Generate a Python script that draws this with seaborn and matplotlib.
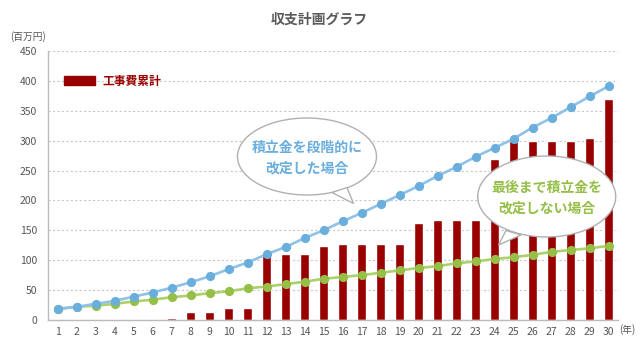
import numpy as np
import pandas as pd
import matplotlib
matplotlib.use("Agg")
import matplotlib.pyplot as plt
from matplotlib.patches import Ellipse, Polygon, Patch
import seaborn as sns

years = [str(i) for i in range(1, 31)]
construction_cum = [0, 0, 0, 1.5, 1.5, 1.5, 4, 13, 13, 20, 20, 110, 110, 110, 123,
                    127, 127, 127, 127, 162, 167, 167, 167, 269, 300, 300, 300, 300, 304, 370]
staged_revision = [19, 22, 27, 32, 39, 46, 54, 63, 73, 85, 96, 110, 122, 137, 150,
                   165, 179, 194, 209, 224, 241, 256, 273, 288, 303, 322, 338, 356, 374, 391]
no_revision = [18, 22, 24, 27, 31, 34, 38, 41, 45, 48, 53, 56, 60, 64, 69,
               72, 75, 79, 83, 87, 90, 95, 98, 102, 105, 109, 114, 117, 120, 124]
yticks = [0, 50, 100, 150, 200, 250, 300, 350, 400, 450]

title = "収支計画グラフ"
unit_y = "(百万円)"
unit_x = "(年)"
legend_label = "工事費累計"
bubble_blue = ["積立金を段階的に", "改定した場合"]
bubble_green = ["最後まで積立金を", "改定しない場合"]

RED = "#990000"
BLUE = "#6aaedd"
BLUE_LINE = "#8ec2e8"
GREEN = "#95bf47"
GREEN_LINE = "#acd06a"
GRAY = "#555555"

sns.set_style("white")
plt.rcParams["font.family"] = ["Noto Sans CJK JP", "DejaVu Sans"]

df = pd.DataFrame({"year": years, "cost": construction_cum,
                   "staged": staged_revision, "none": no_revision})

fig = plt.figure(figsize=(6.4, 3.5), dpi=100)
ax = fig.add_axes([48 / 640, 1 - 320 / 350, 570 / 640, 269 / 350])

sns.barplot(data=df, x="year", y="cost", order=years, color=RED, saturation=1,
            width=0.52, ax=ax, zorder=2)
n0 = len(ax.lines)
sns.pointplot(data=df, x="year", y="none", order=years, color=GREEN, errorbar=None,
              markers="o", markersize=5.2, linewidth=1.9, ax=ax, zorder=3)
for ln in ax.lines[n0:]:
    ln.set_color(GREEN_LINE)
    ln.set_markerfacecolor(GREEN)
    ln.set_markeredgecolor(GREEN)
n1 = len(ax.lines)
sns.pointplot(data=df, x="year", y="staged", order=years, color=BLUE, errorbar=None,
              markers="o", markersize=5.2, linewidth=1.9, ax=ax, zorder=4)
for ln in ax.lines[n1:]:
    ln.set_color(BLUE_LINE)
    ln.set_markerfacecolor(BLUE)
    ln.set_markeredgecolor(BLUE)

ax.set_xlim(-0.5, 29.5)
ax.set_ylim(0, 450)
ax.set_yticks(yticks)
ax.set_xlabel("")
ax.set_ylabel("")
ax.yaxis.grid(True, linestyle=(0, (2, 2)), color="#c8c8c8", linewidth=0.8)
ax.set_axisbelow(True)
for s in ["top", "right"]:
    ax.spines[s].set_visible(False)
for s in ["left", "bottom"]:
    ax.spines[s].set_color("#bbbbbb")
    ax.spines[s].set_linewidth(1.0)
ax.tick_params(axis="both", which="major", length=0, labelsize=7.5, labelcolor=GRAY)
ax.tick_params(axis="y", pad=8)
ax.tick_params(axis="x", pad=5)
ax.set_xticks(np.arange(-0.5, 30, 1), minor=True)
ax.tick_params(axis="x", which="minor", direction="in", length=4, color="#bbbbbb")

leg = ax.legend(handles=[Patch(color=RED, label=legend_label)], loc="center left",
                bbox_to_anchor=((64 - 48) / 570, (320 - 81) / 269), frameon=False,
                borderaxespad=0, borderpad=0, handlelength=2.6, handleheight=0.9,
                handletextpad=0.7, prop={"size": 8.5, "weight": "bold"}, labelcolor=RED)

fig.text(319.5 / 640, 1 - 20 / 350, title, ha="center", va="center", fontsize=10,
         fontweight="bold", color="#5a5a5a")
fig.text(10 / 640, 1 - 37 / 350, unit_y, ha="left", va="center", fontsize=7, color=GRAY)
fig.text(619 / 640, 1 - 330 / 350, unit_x, ha="left", va="center", fontsize=7, color=GRAY)

ov = fig.add_axes([0, 0, 1, 1], zorder=5)
ov.set_xlim(0, 640)
ov.set_ylim(350, 0)
ov.axis("off")
ov.patch.set_alpha(0)


def bubble(cx, cy, w, h, base, tip, lines, color):
    ov.add_patch(Ellipse((cx, cy), w, h, facecolor="white", edgecolor="#b0b0b0", lw=1.0, zorder=1))
    ov.add_patch(Polygon([base[0], tip, base[1]], closed=True, facecolor="white",
                         edgecolor="#b0b0b0", lw=1.0, zorder=2))
    ov.add_patch(Ellipse((cx, cy), w - 3, h - 3, facecolor="white", edgecolor="none", zorder=3))
    ov.text(cx, cy - 8.5, lines[0], ha="center", va="center", fontsize=10,
            fontweight="bold", color=color, zorder=4)
    ov.text(cx, cy + 11.5, lines[1], ha="center", va="center", fontsize=10,
            fontweight="bold", color=color, zorder=4)


bubble(307, 156.5, 139, 77, [(332, 192.5), (347, 187.5)], (353.5, 203.5), bubble_blue, BLUE)
bubble(546.7, 196.5, 138, 81, [(506, 230.5), (521, 235)], (498.5, 245), bubble_green, GREEN)

fig.savefig("out.png", dpi=100)
